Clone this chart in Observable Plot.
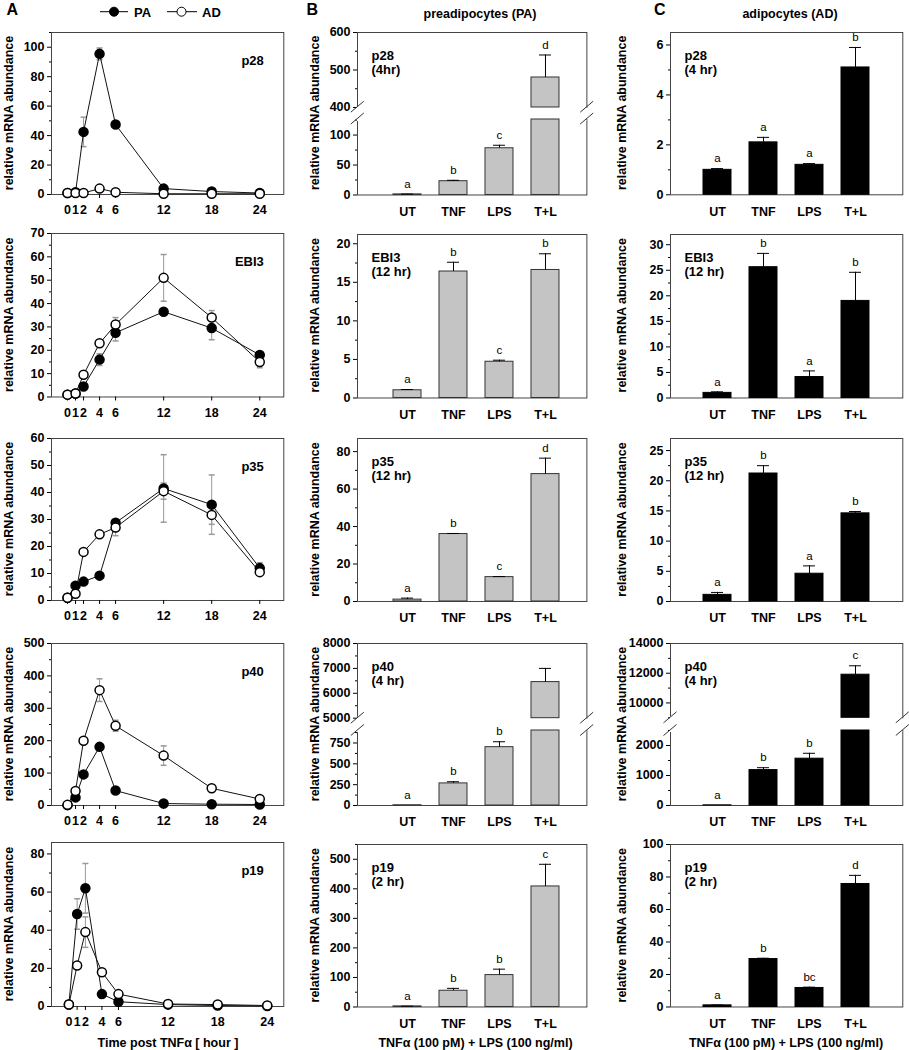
<!DOCTYPE html>
<html><head><meta charset="utf-8">
<script src="https://cdn.jsdelivr.net/npm/d3@7"></script>
<script src="https://cdn.jsdelivr.net/npm/@observablehq/plot@0.6"></script>
<style>
body{margin:0;background:#fff;}
#fig{position:relative;width:909px;height:1050px;overflow:hidden;background:#fff;}
</style></head><body><div id="fig"></div>
<script>
// ---------------- DATA ----------------
const hours = [0, 1, 2, 4, 6, 12, 18, 24];
const genes = ["p28", "EBI3", "p35", "p40", "p19"];
const treatments = ["UT", "TNF", "LPS", "T+L"];
const timesPA = ["(4hr)", "(12 hr)", "(12 hr)", "(4 hr)", "(2 hr)"];
const timesAD = ["(4 hr)", "(12 hr)", "(12 hr)", "(4 hr)", "(2 hr)"];

// Panel A: time course (PA filled, AD open)
const p28PA = [1, 1.5, 42.5, 95.5, 47.5, 4, 2, 1];
const p28PAerr = [0, 0, 10, 4, 0, 0, 0, 0];
const p28AD = [1, 1, 1, 4, 1.5, 0.5, 0.5, 0.5];
const p28ADerr = [0, 0, 0, 0, 0, 0, 0, 0];
const ebi3PA = [1, 1.5, 4.5, 16, 27.5, 36.5, 29.5, 18];
const ebi3PAerr = [0, 0, 0, 2.5, 3.5, 0, 5, 0];
const ebi3AD = [1, 1.5, 9.5, 23, 31, 51, 34, 15];
const ebi3ADerr = [0, 0, 0, 0, 3, 10, 3, 2.5];
const p35PA = [1, 5.5, 7, 9.2, 28.8, 41.5, 35.5, 12];
const p35PAerr = [0, 0, 0, 0, 0, 12.5, 11, 2];
const p35AD = [1, 2.5, 18, 24.5, 27, 40.5, 31.7, 10.5];
const p35ADerr = [0, 0, 0, 0, 3, 3, 3.5, 1];
const p40PA = [1, 25, 96, 181, 46, 6, 4, 3];
const p40PAerr = [0, 0, 0, 0, 0, 0, 0, 0];
const p40AD = [2, 45, 200, 356, 246, 154, 53, 20];
const p40ADerr = [0, 0, 0, 35, 17, 30, 0, 0];
const p19PA = [1, 48.5, 62, 6.5, 2.5, 1, 0.5, 0.3];
const p19PAerr = [0, 8, 13, 0, 0, 0, 0, 0];
const p19AD = [1, 21.5, 39, 18, 6.5, 1.3, 1, 0.5];
const p19ADerr = [0, 0, 8, 0, 0, 0, 0, 0];

// Panel B: preadipocytes (PA)
const p28PAbar = [1, 23, 78, 480];        const p28PAbarErr = [0.5, 1.5, 5, 60];     const p28PAlet = ["a", "b", "c", "d"];
const ebi3PAbar = [1.0, 16.4, 4.7, 16.6]; const ebi3PAbarErr = [0.1, 1.2, 0.2, 2.1]; const ebi3PAlet = ["a", "b", "c", "b"];
const p35PAbar = [1, 36, 13, 68];         const p35PAbarErr = [0.8, 0.3, 0.3, 8.5];  const p35PAlet = ["a", "b", "c", "d"];
const p40PAbar = [3, 265, 700, 6450];     const p40PAbarErr = [0, 20, 65, 550];      const p40PAlet = ["a", "b", "b", ""];
const p19PAbar = [2, 55, 108, 408];       const p19PAbarErr = [0.5, 8, 20, 75];      const p19PAlet = ["a", "b", "b", "c"];

// Panel C: adipocytes (AD)
const p28ADbar = [1.0, 2.1, 1.2, 5.1];    const p28ADbarErr = [0.05, 0.2, 0.05, 0.8]; const p28ADlet = ["a", "a", "a", "b"];
const ebi3ADbar = [1.0, 25.6, 4.1, 19.0]; const ebi3ADbarErr = [0.2, 2.7, 1.2, 5.6];  const ebi3ADlet = ["a", "b", "a", "b"];
const p35ADbar = [1.1, 21.2, 4.6, 14.6];  const p35ADbarErr = [0.4, 1.3, 1.3, 0.3];  const p35ADlet = ["a", "b", "a", "b"];
const p40ADbar = [5, 1180, 1560, 11900];  const p40ADbarErr = [0, 80, 180, 600];     const p40ADlet = ["a", "b", "b", "c"];
const p19ADbar = [1, 29.5, 11.7, 75.7];   const p19ADbarErr = [0.2, 0.5, 0.5, 5.3];  const p19ADlet = ["a", "b", "bc", "d"];

const timeSeries = [
  {pa: p28PA, paErr: p28PAerr, ad: p28AD, adErr: p28ADerr},
  {pa: ebi3PA, paErr: ebi3PAerr, ad: ebi3AD, adErr: ebi3ADerr},
  {pa: p35PA, paErr: p35PAerr, ad: p35AD, adErr: p35ADerr},
  {pa: p40PA, paErr: p40PAerr, ad: p40AD, adErr: p40ADerr},
  {pa: p19PA, paErr: p19PAerr, ad: p19AD, adErr: p19ADerr}
];
const barsPA = [
  {v: p28PAbar, e: p28PAbarErr, l: p28PAlet},
  {v: ebi3PAbar, e: ebi3PAbarErr, l: ebi3PAlet},
  {v: p35PAbar, e: p35PAbarErr, l: p35PAlet},
  {v: p40PAbar, e: p40PAbarErr, l: p40PAlet},
  {v: p19PAbar, e: p19PAbarErr, l: p19PAlet}
];
const barsAD = [
  {v: p28ADbar, e: p28ADbarErr, l: p28ADlet},
  {v: ebi3ADbar, e: ebi3ADbarErr, l: ebi3ADlet},
  {v: p35ADbar, e: p35ADbarErr, l: p35ADlet},
  {v: p40ADbar, e: p40ADbarErr, l: p40ADlet},
  {v: p19ADbar, e: p19ADbarErr, l: p19ADlet}
];

// ---------------- LAYOUT ----------------
const FONT = '"Liberation Sans", Arial, Helvetica, sans-serif';
const fig = document.getElementById("fig");
const colA = {x: 50.7, w: 232.3, labelX: 9};
const colB = {x: 357.3, w: 229.4, labelX: 315, pi: 0.397, po: 0.67, al: 0.558, fill: "#c4c4c4", stroke: "#333"};
const colC = {x: 670, w: 232.3, labelX: 622, pi: 0.399, po: 0.692, al: 0.5, fill: "#000", stroke: "#000"};
const rowsA = [[32, 194], [233, 396.5], [438, 600], [643, 805], [842, 1006]];
const rowsBC = [[31.7, 194], [233.5, 397], [438, 601], [643, 805], [844, 1006.5]];
const axesA = [{max: 110, step: 20}, {max: 70, step: 10}, {max: 60, step: 10}, {max: 500, step: 100}, {max: 86, step: 20}];
const xDomA = [[-2, 27], [-2, 27], [-2, 27], [-2, 27], [-2.1, 26]];
const axesB = [
  {split: {hi: [400, 600], hiStep: 100, lo: [0, 126], loStep: 50, upperBottom: 106.7, lowerTop: 118.5}},
  {max: 21.2, step: 5},
  {max: 87, step: 20},
  {split: {hi: [5000, 8000], hiStep: 1000, lo: [0, 900], loStep: 250, upperBottom: 717.7, lowerTop: 730}},
  {max: 550, step: 100}
];
const axesC = [
  {max: 6.5, step: 2},
  {max: 32, step: 5},
  {max: 27, step: 5},
  {split: {hi: [9000, 14000], hiStep: 2000, lo: [0, 2500], loStep: 1000, upperBottom: 717.3, lowerTop: 730}},
  {max: 100, step: 20}
];

const ML = 60, MR = 14, MT = 14, MB = 34;
function panelPlot(fx, fy, fw, fh, opts) {
  const p = Plot.plot({
    width: fw + ML + MR, height: fh + MT + MB,
    marginLeft: ML, marginRight: MR, marginTop: MT, marginBottom: MB,
    style: {fontFamily: FONT, fontSize: "12.5px", fontWeight: "bold", color: "#000", background: "transparent", overflow: "visible"},
    ...opts
  });
  p.style.position = "absolute";
  p.style.left = (fx - ML) + "px";
  p.style.top = (fy - MT) + "px";
  fig.appendChild(p);
  return p;
}
function majors(lo, hi, step) {
  const out = [];
  for (let t = Math.ceil(lo / step - 1e-9) * step; t <= hi + 1e-9; t += step) out.push(+t.toFixed(6));
  return out;
}
function minors(lo, hi, step) {
  const out = [];
  for (let t = Math.ceil(lo / step - 1e-9) * step - step / 2; t <= hi + 1e-9; t += step) if (t >= lo - 1e-9) out.push(+t.toFixed(6));
  return out;
}
const yAxes = (lo, hi, step) => [
  Plot.axisY({ticks: majors(lo, hi, step), tickSize: 4, tickPadding: 3, tickFormat: d => String(d), label: null}),
  Plot.axisY({ticks: minors(lo, hi, step), tickSize: 2, tickFormat: () => "", label: null})
];
const cap = {draw(ctx, size) { const r = Math.sqrt(size / Math.PI); ctx.moveTo(-r, 0); ctx.lineTo(r, 0); }};

// ---------------- overlay svg for text ----------------
const NS = "http://www.w3.org/2000/svg";
const over = document.createElementNS(NS, "svg");
over.setAttribute("width", 909); over.setAttribute("height", 1050);
over.style.cssText = "position:absolute;left:0;top:0;pointer-events:none;font-family:" + FONT + ";";
function el(tag, attrs, text) {
  const e = document.createElementNS(NS, tag);
  for (const k in attrs) e.setAttribute(k, attrs[k]);
  if (text != null) e.textContent = text;
  over.appendChild(e);
  return e;
}
function yLabel(cx, cy) {
  el("text", {transform: `translate(${cx},${cy}) rotate(-90)`, "text-anchor": "middle", "dominant-baseline": "central",
    "font-size": 12.5, "font-weight": "bold"}, "relative mRNA abundance");
}

// ---------------- Column A ----------------
genes.forEach((gene, k) => {
  const s = timeSeries[k], ax = axesA[k];
  const [y0, y1] = rowsA[k];
  const pa = hours.map((t, j) => ({t, v: s.pa[j], e: s.paErr[j]}));
  const ad = hours.map((t, j) => ({t, v: s.ad[j], e: s.adErr[j]}));
  const errs = [...pa, ...ad].filter(d => d.e > 0);
  panelPlot(colA.x, y0, colA.w, y1 - y0, {
    x: {domain: xDomA[k]},
    y: {domain: [0, ax.max]},
    marks: [
      Plot.frame({stroke: "#444"}),
      ...yAxes(0, ax.max, ax.step),
      Plot.axisX({ticks: hours, tickSize: 4, tickPadding: 7, tickFormat: d => String(d), label: null}),
      Plot.link(errs, {x1: "t", x2: "t", y1: d => d.v - d.e, y2: d => d.v + d.e, stroke: "#999"}),
      Plot.dot(errs, {x: "t", y: d => d.v + d.e, symbol: cap, r: 3, stroke: "#999", fill: "none"}),
      Plot.dot(errs, {x: "t", y: d => d.v - d.e, symbol: cap, r: 3, stroke: "#999", fill: "none"}),
      Plot.line(pa, {x: "t", y: "v", stroke: "#111", strokeWidth: 1}),
      Plot.line(ad, {x: "t", y: "v", stroke: "#111", strokeWidth: 1}),
      Plot.dot(pa, {x: "t", y: "v", r: 4.5, fill: "#000", stroke: "#000"}),
      Plot.dot(ad, {x: "t", y: "v", r: 4.5, fill: "#fff", stroke: "#000"}),
      Plot.text([gene], {frameAnchor: "top-right", dx: -20, dy: 23, text: d => d, fontSize: 13, fontWeight: "bold"})
    ]
  });
  yLabel(colA.labelX, (y0 + y1) / 2);
});

// ---------------- Columns B & C ----------------
function barMarks(rows, col, lo, hi, showTop) {
  const inRange = d => d.v + d.e <= hi && d.v >= lo;
  return [
    Plot.barY(rows.filter(d => d.v > lo), {x: "c", y1: lo, y2: d => Math.min(d.v, hi), fill: col.fill, stroke: col.stroke, strokeWidth: 1}),
    Plot.ruleX(rows.filter(d => d.e > 0 && inRange(d)), {x: "c", y1: "v", y2: d => d.v + d.e, stroke: "#000"}),
    Plot.tickY(rows.filter(d => d.e > 0 && inRange(d)), {x: "c", y: d => d.v + d.e, insetLeft: 8, insetRight: 8, stroke: "#000"}),
    Plot.text(rows.filter(d => d.v + d.e <= hi && (showTop || d.v + d.e >= lo)), {x: "c", y: d => d.v + d.e, text: "l", dy: -10, fontSize: 11.5, fontWeight: "normal"})
  ];
}
function barColumn(col, data, axes, times) {
  const xScale = {type: "band", domain: treatments, paddingInner: col.pi, paddingOuter: col.po, align: col.al};
  genes.forEach((gene, k) => {
    const s = data[k], ax = axes[k];
    const [y0, y1] = rowsBC[k];
    const rows = treatments.map((c, j) => ({c, v: s.v[j], e: s.e[j], l: s.l[j]}));
    const label = Plot.text([gene + "\n" + times[k]], {frameAnchor: "top-left", dx: 14, dy: 17, lineAnchor: "top", lineHeight: 1.1, text: d => d, fontSize: 13, fontWeight: "bold"});
    const xAxis = Plot.axisX({tickSize: 0, tickPadding: 12, label: null});
    if (!ax.split) {
      panelPlot(col.x, y0, col.w, y1 - y0, {
        x: xScale, y: {domain: [0, ax.max]},
        marks: [Plot.frame({stroke: "#444"}), ...yAxes(0, ax.max, ax.step), xAxis, ...barMarks(rows, col, 0, ax.max, true), label]
      });
    } else {
      const sp = ax.split;
      // upper piece of the broken axis
      panelPlot(col.x, y0, col.w, sp.upperBottom - y0, {
        x: {...xScale, axis: null}, y: {domain: sp.hi},
        marks: [
          Plot.frame({stroke: "#444"}),
          Plot.ruleY([sp.hi[0]], {stroke: "#fff", strokeWidth: 3}),
          ...yAxes(sp.hi[0], sp.hi[1], sp.hiStep),
          ...barMarks(rows, col, sp.hi[0], sp.hi[1], false),
          label
        ]
      });
      // lower piece
      panelPlot(col.x, sp.lowerTop, col.w, y1 - sp.lowerTop, {
        x: xScale, y: {domain: sp.lo},
        marks: [
          Plot.frame({stroke: "#444"}),
          Plot.ruleY([sp.lo[1]], {stroke: "#fff", strokeWidth: 3}),
          ...yAxes(sp.lo[0], sp.lo[1], sp.loStep),
          xAxis,
          ...barMarks(rows, col, 0, sp.lo[1], true)
        ]
      });
      // break marks
      for (const fx of [col.x, col.x + col.w]) {
        for (const yy of [sp.upperBottom, sp.lowerTop]) {
          el("line", {x1: fx - 6.5, y1: yy + 5.5, x2: fx + 6.5, y2: yy - 5.5, stroke: "#333", "stroke-width": 1});
        }
      }
    }
    yLabel(col.labelX, (y0 + y1) / 2);
  });
}
barColumn(colB, barsPA, axesB, timesPA);
barColumn(colC, barsAD, axesC, timesAD);

// ---------------- titles, legend ----------------
el("text", {x: 6.5, y: 15, "font-size": 16, "font-weight": "bold"}, "A");
el("text", {x: 306.5, y: 15, "font-size": 16, "font-weight": "bold"}, "B");
el("text", {x: 654, y: 15, "font-size": 16, "font-weight": "bold"}, "C");
el("text", {x: 480, y: 18, "font-size": 12.5, "font-weight": "bold", "text-anchor": "middle"}, "preadipocytes (PA)");
el("text", {x: 790, y: 18, "font-size": 12.5, "font-weight": "bold", "text-anchor": "middle"}, "adipocytes (AD)");
// legend
el("line", {x1: 100, x2: 128, y1: 11.7, y2: 11.7, stroke: "#000"});
el("circle", {cx: 114, cy: 11.7, r: 4.5, fill: "#000", stroke: "#000"});
el("text", {x: 134, y: 16.5, "font-size": 13, "font-weight": "bold"}, "PA");
el("line", {x1: 167, x2: 197, y1: 11.7, y2: 11.7, stroke: "#000"});
el("circle", {cx: 181.5, cy: 11.7, r: 4.5, fill: "#fff", stroke: "#000"});
el("text", {x: 202, y: 16.5, "font-size": 13, "font-weight": "bold"}, "AD");
// bottom titles
el("text", {x: 168, y: 1047, "font-size": 12.5, "font-weight": "bold", "text-anchor": "middle"}, "Time post TNFα [ hour ]");
el("text", {x: 475.5, y: 1047, "font-size": 12.5, "font-weight": "bold", "text-anchor": "middle"}, "TNFα (100 pM) + LPS (100 ng/ml)");
el("text", {x: 786, y: 1047, "font-size": 12.5, "font-weight": "bold", "text-anchor": "middle"}, "TNFα (100 pM) + LPS (100 ng/ml)");
fig.appendChild(over);
</script></body></html>
